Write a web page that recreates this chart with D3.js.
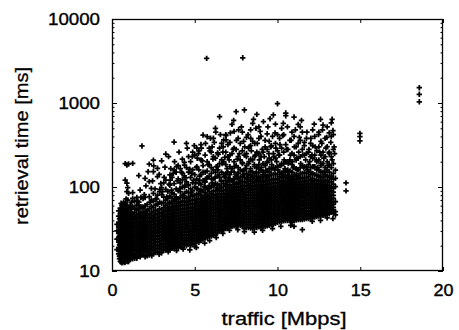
<!DOCTYPE html>
<html><head><meta charset="utf-8">
<script src="https://cdn.jsdelivr.net/npm/d3@7"></script>
<style>body{margin:0;background:#fff}svg{display:block}</style>
</head><body>
<svg id="chart" width="459" height="330"></svg>
<script>
const xTicks = [0, 5, 10, 15, 20];
const yTicks = [10, 100, 1000, 10000];
const yMinorTicks = [20,30,40,50,60,70,80,90,200,300,400,500,600,700,800,900,2000,3000,4000,5000,6000,7000,8000,9000];
const xTitle = "traffic [Mbps]";
const yTitle = "retrieval time [ms]";

// dense cloud, read column by column (traffic in Mbps)
const columnTraffic = [0.4,0.5,0.6,0.7,0.8,0.9,1.0,1.1,1.25,1.5,1.75,2.0,2.25,2.5,2.75,3.0,3.25,3.5,3.75,4.0,4.25,4.5,4.75,5.0,5.25,5.5,5.75,6.0,6.25,6.5,6.75,7.0,7.25,7.5,7.75,8.0,8.25,8.5,8.75,9.0,9.25,9.5,9.75,10.0,10.25,10.5,10.75,11.0,11.25,11.5,11.75,12.0,12.25,12.5,12.75,13.0,13.25,13.5];
// retrieval times (ms) for each column
const columnRetrieval = [
 [16,19,22,25,28,33,38,45,52],
 [13,14,15.5,17,18,20,21.5,23,25,27,29,31,34,37,41,48,56],
 [12.5,13.5,14.5,16,17.5,19,20.5,22,24,26,28,30,33,36,39,43,50,61],
 [13,14,15,16.5,18,19.5,21,23,25,27,29.5,32,35,38,42,47,55,66],
 [12.8,13.8,15,16,17.5,19,20.5,22,24,26,28,30.5,33,36,40,44,52,64,121,190],
 [13.2,14.2,15.5,17,18.5,20,21.5,23.5,25.5,27.5,30,32.5,35,39,43,48,58,88,111,183],
 [13,14,15,16.5,18,19.5,21,23,25,27,29,31.5,34,37,41,46,53,84,188],
 [14,15,16.5,18,19.5,21,22.5,24.5,26.5,29,31,34,37,40,45,51,60],
 [14,15.5,17,18.5,20,22,24,26,28,30,33,36,39,43,48,59,73,86,191],
 [14.2,16,17.5,19,21,23,25,27,29,32,35,38,42,46,53,61,75],
 [15.5,17,18.5,20,22,24,26,28,31,34,37,41,45,50,58,75],
 [14.8,16.5,18,19.5,21,23,25,27,29.5,32,35,38,42,46,51,60,75,127],
 [15.5,17,18.5,20,22,24,26,28,30.5,33,36,39,43,48,55,77,116,187],
 [16,17.5,19,21,23,25,27,29,32,35,38,41,45,50,57,68,84,152,209],
 [17,18.5,20,22,24,26,28,30,33,36,39,43,47,52,62,80,133,167],
 [16.5,18,19.5,21,23,25,27,29.5,32,35,38,41,45,49,54,64,81,98,205],
 [17.8,19,21,23,25,27,29,31.5,34,37,40,44,48,53,60,70,94,121,247],
 [18,19.5,21,23,25,27,29,31.5,34,37,40,44,48,53,58,66,78,105,139],
 [18.5,20,22,24,26,28,30,32.5,35,38,41,45,49,54,60,68,82,110,160,343],
 [19,20.5,22,24,26,28,30,32.5,35,38,41,45,49,53,58,64,72,90,125,180],
 [19,21,23,25,27,29,31,33.5,36,39,42,46,50,55,61,68,80,100,145,215],
 [20,21.5,23.4,25,27,29,31,33.5,36,39,42,46,50,55,60,66,74,88,115,170,331],
 [20,22,24,26,28,30,32,34.5,37,40,43,47,51,56,62,69,78,95,130,200],
 [19.5,21,23,25,27,29,31,33.5,36,39,42,45,49,53,58,63,70,80,100,140,240],
 [22,24,26,28,30,32,34.5,37,40,43,46,50,54,59,64,71,82,110,160,270],
 [24,26,28,30,32,34.5,37,40,43,46,50,54,58,63,69,76,90,120,180,416],
 [25,27,29,31,33,35.5,38,41,44,47,51,55,60,65,72,80,95,130,200,397],
 [26,28,30,32,34.5,37,40,43,46,50,54,58,63,69,76,84,100,125,170,260],
 [27,29,31,33.5,36,39,42,45,49,53,57,62,67,73,80,90,110,150,220,500],
 [30,32,34.5,37,40,43,46,50,54,58,63,68,74,81,90,105,130,190,290,687],
 [31,33,35.5,38,41,44,47,51,55,59,64,69,75,82,92,110,140,200,363],
 [33,35,37.5,40,43,46,50,54,58,63,68,74,80,88,98,115,150,230,320],
 [34,36,38.5,41,44,47,51,55,59,64,69,75,82,90,100,120,165,250,557],
 [34,36.5,39,42,45,48,52,56,60,65,70,76,83,91,100,112,135,180,280,787],
 [35,37.5,40,43,46,49,53,57,61,66,71,77,84,92,101,113,130,160,210,330],
 [32,35,38,41,44,47,50,54,58,62,67,72,78,85,93,103,115,130,160,240,826],
 [33,36,39,42,45,48,52,56,60,64,69,74,80,87,95,105,118,140,190,290],
 [32,35,38,41,44,47,51,55,59,63,68,73,79,86,94,104,116,130,150,210,350,573],
 [33,36,39,42,45,48,52,56,60,64,69,74,80,87,95,105,118,135,170,260,733],
 [33,36,39,42,45,48,52,56,60,65,70,75,81,88,96,106,118,132,160,230,400],
 [34,37,40,43,46,49,53,57,61,66,71,76,82,89,97,107,120,140,180,300],
 [35,38,41,44,47,50,54,58,62,67,72,78,84,91,99,109,121,137,165,220,350],
 [36,39,42,45,48,51,55,59,63,68,73,79,85,92,100,110,122,140,170,250,720],
 [38,41,44,47,50,53,57,61,65,70,75,81,87,94,102,112,124,140,175,270,420,980],
 [39,42,45,48,51,55,59,63,67,72,77,83,89,96,105,115,128,145,190,290,500],
 [40,43,46,49,52,56,60,64,68,73,78,84,90,97,106,116,130,150,200,320,706],
 [40,43,46,49,53,57,61,65,70,75,80,86,92,99,108,118,132,155,210,360],
 [34,40,43,46,50,54,58,62,66,71,76,81,87,94,102,112,124,140,170,240,400],
 [41,44,47,50,54,58,62,66,71,76,82,88,95,103,112,123,136,160,220,330,557],
 [31,41,44,47,51,55,59,63,68,73,78,84,90,97,105,115,127,145,180,280,450],
 [42,45,48,52,56,60,64,69,74,79,85,91,98,106,116,128,145,175,250,380],
 [42,45,48,52,56,60,64,69,74,79,85,92,100,110,122,140,170,230,330],
 [44,47,50,54,58,62,67,72,77,83,90,98,108,120,140,175,240,400],
 [45,48,52,56,60,65,70,75,81,88,96,105,118,135,160,210,300,450],
 [46,50,54,58,63,68,73,79,86,94,103,115,130,150,190,260,547],
 [47,50,54,58,63,68,74,80,87,95,105,118,135,160,200,302,520],
 [50,55,60,66,72,80,90,100,115,135,170,230,400,582],
 [46.5,51,67,101,127,159]
];
// second pass of the cloud, read between the columns above
const midTraffic = [0.3,0.45,0.55,0.65,0.75,0.85,0.95,1.05,1.175,1.375,1.625,1.875,2.125,2.375,2.625,2.875,3.125,3.375,3.625,3.875,4.125,4.375,4.625,4.875,5.125,5.375,5.625,5.875,6.125,6.375,6.625,6.875,7.125,7.375,7.625,7.875,8.125,8.375,8.625,8.875,9.125,9.375,9.625,9.875,10.125,10.375,10.625,10.875,11.125,11.375,11.625,11.875,12.125,12.375,12.625,12.875,13.125,13.375];
const midRetrieval = [
 [18,24,30,36],
 [14,15,17.5,20.5,23.5,26,30,35,42],
 [12.8,14,15,16.5,18.5,19.5,22,24,26,28,30,32.5,35.5,39,45,53],
 [13,14,15.2,16.8,18.2,19.8,21.5,23,25,27,29,31.5,34,37.5,41,46,57],
 [12.6,13.6,14.8,16.2,17.8,19.2,21,22.5,24.5,26.5,28.5,31,34,37,40,45,51,60],
 [13.4,14.6,15.8,17.2,18.8,20.2,22,23.8,25.8,27.8,30,32.8,36,39.5,44,50,62,72],
 [13,14,15.2,16.8,18.2,19.8,21.5,23.2,25,27,29.5,32,35,38,42,47,55,70,98],
 [13.6,14.6,16,17.4,19,20.5,22,24,26,28,30.5,33,36,39,43,49,57],
 [14.5,15.8,17.4,19,20.6,22.2,24,26,28,30.2,32.5,35,38,42,47,54,66],
 [14.2,15,16.2,17.8,19.5,21.2,23,25,27,29.5,32,34.5,37.5,41,44,50,56,68],
 [15,16.6,18,19.8,21.6,23.5,25.5,27.5,30,32.6,35.5,39,43,48,55,66],
 [15.6,17.4,19,20.8,22.6,24.6,26.6,29,31.5,34.5,37.5,41,45,49,56,73],
 [15.2,16.8,18.6,20.2,22,24,26,28,30.5,33,36,39.5,43.5,48,53,62],
 [16,17.8,19.5,21.4,23.4,25.5,27.6,30,32.5,35.5,38.5,42,46,51,59,70,96],
 [16.6,18.2,20,22,24,26,28.2,30.6,33.2,36.2,39.5,43,47.5,53,61,72],
 [16.8,18.6,20.4,22.4,24.4,26.6,29,31.5,34.2,37.2,40.5,44.5,49,55,66,88],
 [17.8,19.6,21.4,23.4,25.5,27.8,30.2,32.8,35.6,38.8,42.2,46.5,51,57,65,76,112],
 [18.2,20,22,24,26,28,30.5,33,36,39,42.5,46.5,51,56,63,74,88],
 [18.6,20.4,22.4,24.4,26.5,28.8,31.2,34,37,40.2,43.6,47.5,52,57,64,73,86,130],
 [19.4,21.2,23.2,25.2,27.4,29.8,32.2,35,38,41.4,45,49,54,60,67,76,95,150],
 [19.6,21.6,23.6,25.8,28,30.4,33,35.8,38.8,42,45.8,50,54.5,60,66,75,88,112,165],
 [20.4,22.4,24.4,26.6,28.8,31.2,33.8,36.6,39.6,43,46.8,51,55.6,61,67,74,84,100,136,196],
 [20.8,22.8,24.8,27,29.4,32,34.6,37.4,40.6,44,48,52,56.6,62,68,76,86,106,150,230],
 [21,23,25,27.2,29.6,32.2,34.8,37.8,41,44.6,48.4,52.6,57.4,63,70,78,90,112,160,260],
 [22.5,24.6,26.8,29,31.4,34,36.8,39.8,43,46.6,50.5,55,60,66,73,82,96,124,175,290],
 [23,25.2,27.4,29.6,32,34.6,37.4,40.4,43.8,47.4,51.4,55.8,60.6,66,72,80,92,108,140,210,320],
 [24.6,26.8,29,31.4,34,36.8,39.6,42.8,46.2,50,54,58.6,63.5,69,76,85,98,115,150,240],
 [25.6,27.8,30,32.4,35,37.8,40.8,44,47.6,51.4,55.6,60.2,65.2,71,78,88,104,135,185,290],
 [26.6,28.8,31.2,33.8,36.4,39.2,42.4,45.6,49.2,53,57.2,61.8,67,73,80,90,105,125,160,230,380],
 [28.5,30.8,33.2,35.8,38.6,41.6,44.8,48.2,52,56,60.4,65.2,70.4,76.5,84,94,108,135,175,255],
 [30.5,33,35.6,38.4,41.4,44.6,48,51.8,55.8,60.2,64.8,70,75.6,82,90,100,118,150,210,330],
 [32,34.4,37,39.8,42.8,46,49.6,53.4,57.4,61.8,66.6,71.8,77.5,84,92,102,120,145,185,260,420],
 [33.5,36,38.8,41.8,45,48.4,52,56,60.4,65,70,75.5,81.5,88,96,106,122,140,175,240,340],
 [34.5,37,39.8,42.8,46,49.4,53.2,57.2,61.6,66.4,71.5,77,83,90,98,108,125,150,200,290,460],
 [35.5,38.2,41,44,47.4,51,54.8,59,63.6,68.4,73.6,79.2,85.4,92,100,110,125,145,170,230,380],
 [34,36.6,39.4,42.4,45.6,49,52.8,56.8,61,65.6,70.6,76,82,88.4,96,105,116,132,155,195,270,450],
 [33,35.6,38.4,41.4,44.6,48,51.6,55.6,59.8,64.4,69.4,74.8,80.6,87,94,102,112,125,145,180,250,390],
 [32.5,35,37.8,40.8,44,47.4,51,55,59.2,63.8,68.6,73.8,79.4,85.6,92.5,100,110,122,138,165,215,310,480],
 [33,35.6,38.4,41.4,44.6,48,51.6,55.6,59.8,64.4,69.4,74.8,80.6,87,94,102,113,126,145,175,230,330],
 [33.5,36.2,39,42,45.2,48.6,52.4,56.4,60.8,65.6,70.6,76,82,88.5,96,104,115,128,148,185,250,380,520],
 [34,36.8,39.6,42.6,45.8,49.4,53.2,57.2,61.6,66.4,71.6,77,83,89.6,97,106,117,130,150,190,260],
 [34.5,37.4,40.4,43.6,47,50.6,54.4,58.6,63,67.8,73,78.6,84.6,91.2,98.5,107,118,132,155,200,280,430],
 [35.5,38.4,41.4,44.6,48,51.6,55.6,59.8,64.4,69.4,74.8,80.6,87,94,102,112,124,140,165,210,310],
 [37,40,43,46.2,49.6,53.2,57.2,61.4,66,71,76.4,82.2,88.6,95.6,103,113,125,142,170,220,330,560],
 [38.5,41.6,44.8,48.2,51.8,55.6,59.8,64.2,69,74.2,79.8,85.8,92.4,99.5,108,118,132,150,180,240,380],
 [39.5,42.6,45.8,49.2,52.8,56.8,61,65.6,70.4,75.6,81.2,87.4,94,101,110,121,135,155,190,260,420],
 [40,43.2,46.6,50.2,54,58,62.4,67,72,77.4,83.2,89.4,96.2,104,113,124,138,160,200,280],
 [38,41.6,45,48.6,52.4,56.4,60.6,65.2,70,75.2,80.8,86.8,93.4,100.6,109,119,132,150,185,250,450],
 [40.5,43.6,47,50.6,54.4,58.6,63,67.8,73,78.6,84.6,91,98,106,115,126,140,165,210,300],
 [41,44.2,47.6,51.2,55,59.2,63.6,68.4,73.6,79.2,85.2,91.8,99,107,116,128,144,170,230,360,520],
 [41.5,44.8,48.2,51.8,55.8,60,64.6,69.4,74.6,80.2,86.4,93,100,108,118,130,148,175,240,340],
 [42,45.2,48.6,52.4,56.4,60.6,65.2,70,75.4,81,87.2,94,101,110,120,133,152,185,260],
 [43,46.4,50,53.8,57.8,62.2,67,72,77.4,83.4,90,97,105,115,127,145,175,220,310,480],
 [44.5,48,51.6,55.6,59.8,64.4,69.4,74.6,80.4,86.6,93.4,101,110,122,138,160,200,270],
 [45.5,49,52.8,56.8,61.2,66,71,76.6,82.6,89,96.4,105,116,130,150,180,240,350],
 [46.5,50,54,58.2,62.6,67.4,72.6,78.2,84.4,91,99,108,120,140,170,230,380],
 [48,52,56,60.4,65,70,75.6,81.6,88,95.4,104,115,130,150,185,260,440],
 [49,53,57.4,62,67,73,79.6,87,96,108,124,145,190,280,420]
];
// scattered points above and below the dense band [traffic Mbps, retrieval ms]
const scatterPoints = [
 [1.55,68],[1.7,92],[1.95,81],[2.05,103],[2.3,66],[2.45,118],[2.6,95],[2.7,72],[2.85,141],[2.95,110],[1.62,137],[2.18,152],[2.52,178],[1.85,58],[2.75,63],
 [3.05,88],[3.15,130],[3.2,172],[3.3,76],[3.42,230],[3.45,108],[3.6,92],[3.7,145],[3.78,200],[3.85,71],[3.95,118],[4.05,260],[4.1,96],[4.2,150],[4.3,79],
 [4.38,182],[4.45,128],[4.55,290],[4.6,105],[4.7,163],[4.78,86],[4.85,230],[4.92,120],[4.97,310],[4.4,104],[3.55,165],[4.65,70],[3.9,175],[4.25,122],[4.82,145],
 [5.05,112],[5.1,170],[5.18,95],[5.22,250],[5.3,135],[5.35,88],[5.45,205],[5.5,150],[5.58,102],[5.65,330],[5.7,125],[5.8,185],[5.85,96],[5.92,270],[6.0,145],
 [6.05,112],[6.1,215],[6.18,340],[6.22,128],[6.3,175],[6.35,98],[6.42,245],[6.48,140],[6.55,420],[6.6,118],[6.65,190],[6.72,300],[6.78,132],[6.82,225],[6.9,106],
 [6.95,165],[5.4,290],[5.95,380],[6.27,450],[6.7,260],[5.28,120],[5.75,155],[6.15,104],[6.5,96],[6.88,410],[5.15,220],[6.4,160],[5.62,115],[6.85,140],[6.05,300],
 [7.02,128],[7.08,210],[7.15,440],[7.2,150],[7.28,118],[7.32,280],[7.4,175],[7.45,132],[7.52,360],[7.58,215],[7.62,145],[7.7,250],[7.75,120],[7.82,520],[7.88,190],
 [7.92,140],[8.02,300],[8.08,165],[8.12,230],[8.18,128],[8.22,420],[8.28,200],[8.35,155],[8.42,270],[8.48,135],[8.55,640],[8.6,185],[8.65,240],[8.72,150],[8.78,330],
 [8.82,125],[8.9,210],[8.95,460],[9.02,170],[9.08,280],[9.12,140],[9.2,230],[9.25,360],[9.3,158],[9.38,195],[9.42,520],[9.48,250],[9.52,150],[9.6,300],[9.65,185],
 [9.7,400],[9.78,230],[9.82,160],[9.9,290],[9.95,200],[7.35,620],[8.38,380],[9.15,600],[9.55,650],[7.65,480],[8.85,170],[9.35,130],[7.95,350],[8.7,500],[9.85,440],
 [10.02,160],[10.08,240],[10.15,320],[10.2,180],[10.28,140],[10.32,410],[10.4,210],[10.45,165],[10.55,280],[10.6,520],[10.65,190],[10.7,150],[10.78,240],[10.82,360],
 [10.9,200],[10.95,170],[11.02,300],[11.08,480],[11.15,220],[11.2,160],[11.28,260],[11.32,390],[11.4,190],[11.45,620],[11.52,240],[11.58,170],[11.62,310],[11.7,210],
 [11.78,450],[11.82,160],[11.9,280],[11.95,200],[12.02,380],[12.08,240],[12.15,175],[12.22,560],[12.28,300],[12.35,210],[12.42,170],[12.48,420],[12.55,260],[12.62,190],
 [12.68,330],[12.72,480],[12.8,220],[12.85,150],[12.92,290],[12.98,390],[13.05,180],[13.12,250],[13.18,130],[13.22,340],[13.3,210],[13.35,470],[13.42,300],[13.45,250],
 [10.5,760],[11.0,680],[12.6,640],[13.3,640],[11.25,135],[12.0,150],[10.85,128],
 [1.7,14.8],[2.4,15.2],[2.85,15.8],[3.4,16.9],[3.9,17.5],[4.3,18.2],[4.7,17.8],[5.1,19],[5.6,21.5],[5.9,23],[6.3,25],[6.7,28],
 [7.1,30.5],[7.6,31],[8.0,29.5],[8.6,29],[9.1,30.5],[9.7,32],[10.2,34],[10.8,35],[12.1,39],[12.6,40],[13.0,43],[13.35,42]
];
// isolated points
const outlierTraffic =   [5.72, 7.9, 18.57, 18.57, 18.57, 14.98, 14.98, 14.98, 14.14, 14.14, 1.81, 10.35, 0.55, 1.6, 2.9, 3.52, 6.89, 8.3];
const outlierRetrieval = [3400, 3450, 1520, 1270, 1035, 435, 397, 353, 112, 90, 308, 573, 64, 61, 94, 121, 363, 300];

const x = d3.scaleLinear().domain([0, 20]).range([112, 443]);
const y = d3.scaleLog().domain([10, 10000]).range([271, 19]);

const svg = d3.select("#chart");
svg.append("rect").attr("width", 459).attr("height", 330).attr("fill", "#fff");

const points = [];
columnTraffic.forEach((t, i) => columnRetrieval[i].forEach(r => points.push([t, r])));
midTraffic.forEach((t, i) => midRetrieval[i].forEach(r => points.push([t, r])));
scatterPoints.forEach(p => points.push(p));
outlierTraffic.forEach((t, i) => points.push([t, outlierRetrieval[i]]));

svg.append("g").selectAll("path").data(points).join("path")
  .attr("transform", d => `translate(${x(d[0]).toFixed(2)},${y(d[1]).toFixed(2)})`)
  .attr("d", "M-2.7,0H2.7M0,-2.7V2.7")
  .attr("stroke", "#000").attr("stroke-width", 1.75).attr("fill", "none");

const font = "'Liberation Sans', Arial, Helvetica, sans-serif";

function styleAxis(g) {
  g.select(".domain").remove();
  g.selectAll(".tick line").attr("stroke", "#000").attr("stroke-width", 1);
}

// bottom axis
const gx = svg.append("g").attr("transform", "translate(0,271)")
  .call(d3.axisBottom(x).tickValues(xTicks).tickSize(-4).tickPadding(14).tickFormat(d3.format("d")));
styleAxis(gx);
gx.selectAll("text").attr("font-family", font).attr("font-size", 16).attr("fill", "#000")
  .attr("stroke", "#000").attr("stroke-width", 0.35)
  .attr("textLength", function(){ return this.textContent.length * 10; })
  .attr("lengthAdjust", "spacingAndGlyphs");
// top axis
const gxt = svg.append("g").attr("transform", "translate(0,19)")
  .call(d3.axisTop(x).tickValues(xTicks).tickSize(-4).tickFormat(""));
styleAxis(gxt);

// left axis
const gy = svg.append("g").attr("transform", "translate(112,0)")
  .call(d3.axisLeft(y).tickValues(yTicks).tickSize(-5).tickPadding(12).tickFormat(d3.format("d")));
styleAxis(gy);
gy.selectAll("text").attr("font-family", font).attr("font-size", 16).attr("fill", "#000")
  .attr("stroke", "#000").attr("stroke-width", 0.35)
  .attr("textLength", function(){ return this.textContent.length * 10.4; })
  .attr("lengthAdjust", "spacingAndGlyphs");
const gym = svg.append("g").attr("transform", "translate(112,0)")
  .call(d3.axisLeft(y).tickValues(yMinorTicks).tickSize(-2.5).tickFormat(""));
styleAxis(gym);
// right axis
const gyr = svg.append("g").attr("transform", "translate(443,0)")
  .call(d3.axisRight(y).tickValues(yTicks).tickSize(-5).tickFormat(""));
styleAxis(gyr);
const gyrm = svg.append("g").attr("transform", "translate(443,0)")
  .call(d3.axisRight(y).tickValues(yMinorTicks).tickSize(-2.5).tickFormat(""));
styleAxis(gyrm);

// frame
svg.append("rect").attr("x", 112.5).attr("y", 19.5).attr("width", 330).attr("height", 251)
  .attr("fill", "none").attr("stroke", "#000").attr("stroke-width", 1.3);

// titles
svg.append("text").attr("x", 284).attr("y", 325).attr("text-anchor", "middle")
  .attr("font-family", font).attr("font-size", 17.5).attr("fill", "#000")
  .attr("stroke", "#000").attr("stroke-width", 0.3)
  .attr("textLength", 125).attr("lengthAdjust", "spacingAndGlyphs").text(xTitle);
svg.append("text").attr("transform", "translate(28,146) rotate(-90)").attr("text-anchor", "middle")
  .attr("font-family", font).attr("font-size", 17.5).attr("fill", "#000")
  .attr("stroke", "#000").attr("stroke-width", 0.3)
  .attr("textLength", 158).attr("lengthAdjust", "spacingAndGlyphs").text(yTitle);
</script>
</body></html>
